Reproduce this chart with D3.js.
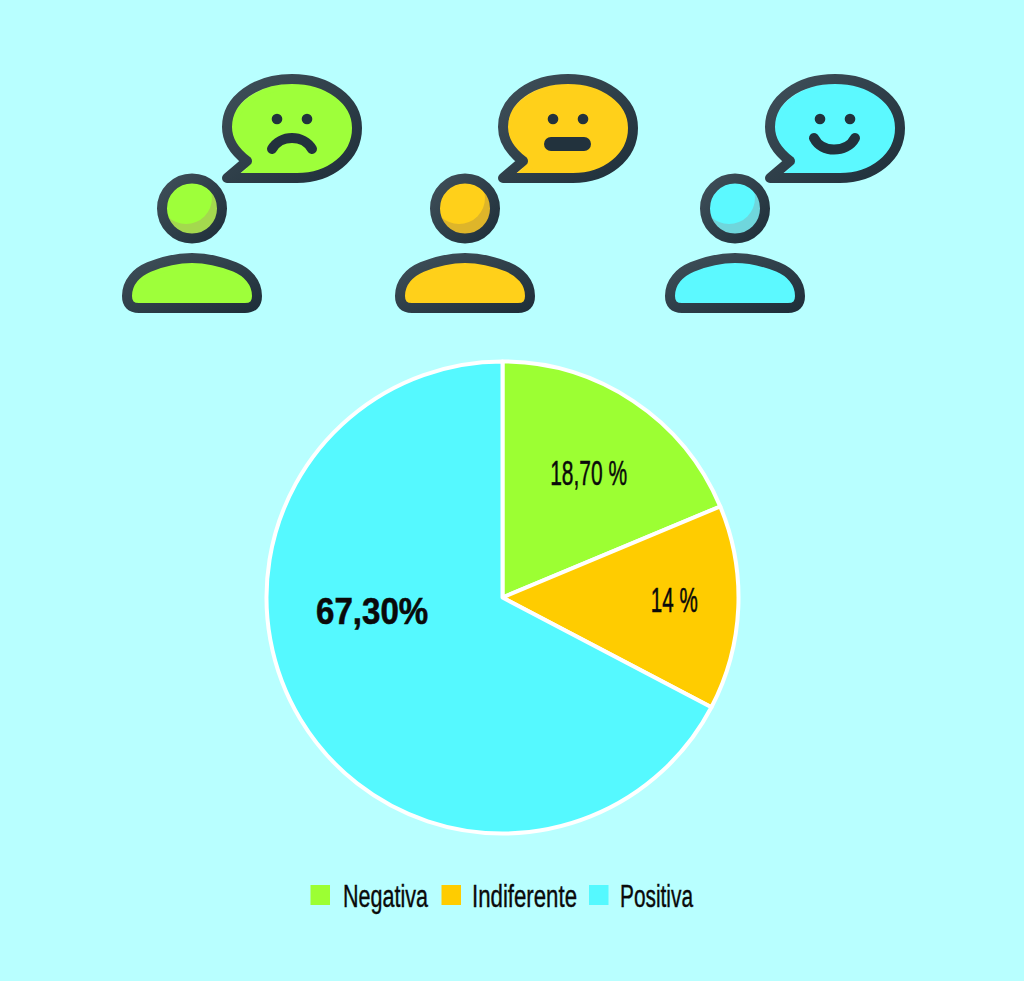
<!DOCTYPE html>
<html><head><meta charset="utf-8">
<script src="https://cdn.jsdelivr.net/npm/d3@7/dist/d3.min.js"></script>
<style>html,body{margin:0;padding:0;background:#b8ffff;overflow:hidden}svg{display:block}
text{font-family:"Liberation Sans Narrow","Liberation Sans",sans-serif;fill:#0a0a0a;stroke:#0a0a0a}</style>
</head><body><svg id="c" width="1024" height="981"></svg>
<script>
const categories = ["Negativa", "Indiferente", "Positiva"];
const values = [18.7, 14, 67.3];
const valueLabels = ["18,70 %", "14 %", "67,30%"];
const colors = ["#9cff33", "#ffcc00", "#55f9ff"];
const iconColors = ["#9eff3a", "#ffd01a", "#5cf9ff"];
const lightColors = ["#b2ff6a", "#ffd94f", "#8bfbff"];
const shadowColors = ["#a4d94e", "#deb52a", "#6fd6dc"];
const moods = ["sad", "neutral", "happy"];

const W = 1024, H = 981;
const svg = d3.select("#c");
svg.append("rect").attr("width", W).attr("height", H).attr("fill", "#b8ffff");

const defs = svg.append("defs");
const grad = defs.append("linearGradient").attr("id", "ink").attr("x1", 0).attr("y1", 0).attr("x2", 1).attr("y2", 1);
grad.append("stop").attr("offset", 0).attr("stop-color", "#3f4f59");
grad.append("stop").attr("offset", 1).attr("stop-color", "#1f2f3a");

// icon layout
const bubbleDx = [0, 276, 543], personDx = [0, 273, 543];
const bubbleD = "M227 178L247 161C235 152 227 141 227 127C227 99 256 79 292 79C328 79 357 100 357 128C357 157 330 178 297 178Z";
const bodyD = "M139 308H245Q257 308 257 296C257 282 247 272 235 267C220 261 207 258 192 258C177 258 164 261 149 267C137 272 127 282 127 296Q127 308 139 308Z";
const faceD = {
  sad: "M272 149C276 142 284 138 292 138C300 138 308 142 312 149",
  neutral: "M275 144H308",
  happy: "M271 138C275 146 283 149.5 291 149.5C299 149.5 308 146 312 138"
};

moods.forEach((m, i) => {
  const b = svg.append("g").attr("transform", `translate(${bubbleDx[i]},0)`);
  const cb = "cb" + i;
  defs.append("clipPath").attr("id", cb).append("path").attr("d", bubbleD);
  b.append("path").attr("d", bubbleD).attr("fill", lightColors[i]);
  b.append("g").attr("clip-path", `url(#${cb})`).append("path").attr("d", bubbleD)
    .attr("transform", "translate(5,7)").attr("fill", iconColors[i]).attr("stroke", iconColors[i]).attr("stroke-width", 6);
  b.append("path").attr("d", bubbleD).attr("fill", "none").attr("stroke", "url(#ink)").attr("stroke-width", 10).attr("stroke-linejoin", "round");
  b.append("path").attr("d", faceD[m]).attr("fill", "none").attr("stroke", "#22323d")
    .attr("stroke-width", m === "neutral" ? 14 : 10).attr("stroke-linecap", "round");
  [277, 307].forEach(x => b.append("circle").attr("cx", x).attr("cy", 119).attr("r", 5.3).attr("fill", "#22323d"));

  const p = svg.append("g").attr("transform", `translate(${personDx[i]},0)`);
  const ch = "ch" + i;
  defs.append("clipPath").attr("id", ch).append("circle").attr("cx", 192).attr("cy", 208.5).attr("r", 26);
  p.append("circle").attr("cx", 192).attr("cy", 208.5).attr("r", 26).attr("fill", shadowColors[i]);
  p.append("g").attr("clip-path", `url(#${ch})`).append("circle").attr("cx", 186).attr("cy", 198).attr("r", 26).attr("fill", iconColors[i]);
  p.append("circle").attr("cx", 192).attr("cy", 208.5).attr("r", 30).attr("fill", "none").attr("stroke", "url(#ink)").attr("stroke-width", 10);

  const cp = "cp" + i;
  defs.append("clipPath").attr("id", cp).append("path").attr("d", bodyD);
  p.append("path").attr("d", bodyD).attr("fill", lightColors[i]);
  p.append("g").attr("clip-path", `url(#${cp})`).append("path").attr("d", bodyD)
    .attr("transform", "translate(4,6)").attr("fill", iconColors[i]).attr("stroke", iconColors[i]).attr("stroke-width", 6);
  p.append("path").attr("d", bodyD).attr("fill", "none").attr("stroke", "url(#ink)").attr("stroke-width", 10).attr("stroke-linejoin", "round");
});

// pie
const cx = 502.5, cy = 597.5, radius = 236;
const pie = d3.pie().sort(null).value(d => d)(values);
const arc = d3.arc().innerRadius(0).outerRadius(radius);
const labelArc = d3.arc().innerRadius(150).outerRadius(150);
const gp = svg.append("g").attr("transform", `translate(${cx},${cy})`);
gp.selectAll("path").data(pie).join("path").attr("d", arc)
  .attr("fill", (d, i) => colors[i]).attr("stroke", "#fff").attr("stroke-width", 4).attr("stroke-linejoin", "round");

const nudge = [[3, 12.5], [22, 8], [-2, -51.5]];
const labelWidth = [77, 47, 112], labelSize = [35, 35, 37], labelWeight = ["normal", "normal", "bold"], labelStroke = [0.5, 0.5, 0.6];
gp.selectAll("text").data(pie).join("text")
  .attr("x", (d, i) => labelArc.centroid(d)[0] + nudge[i][0])
  .attr("y", (d, i) => labelArc.centroid(d)[1] + nudge[i][1])
  .attr("text-anchor", "middle")
  .attr("font-size", (d, i) => labelSize[i]).attr("font-weight", (d, i) => labelWeight[i])
  .attr("stroke-width", (d, i) => labelStroke[i])
  .attr("textLength", (d, i) => labelWidth[i]).attr("lengthAdjust", "spacingAndGlyphs")
  .text((d, i) => valueLabels[i]);

// legend
const swatchX = [310.5, 441.5, 589], textX = [343, 472, 620], textW = [85, 105, 73];
const lg = svg.append("g");
categories.forEach((c, i) => {
  lg.append("rect").attr("x", swatchX[i]).attr("y", 885).attr("width", 19.5).attr("height", 20).attr("fill", colors[i]);
  lg.append("text").attr("x", textX[i]).attr("y", 907).attr("font-size", 31).attr("stroke-width", 0.4)
    .attr("textLength", textW[i]).attr("lengthAdjust", "spacingAndGlyphs").text(c);
});
</script></body></html>
